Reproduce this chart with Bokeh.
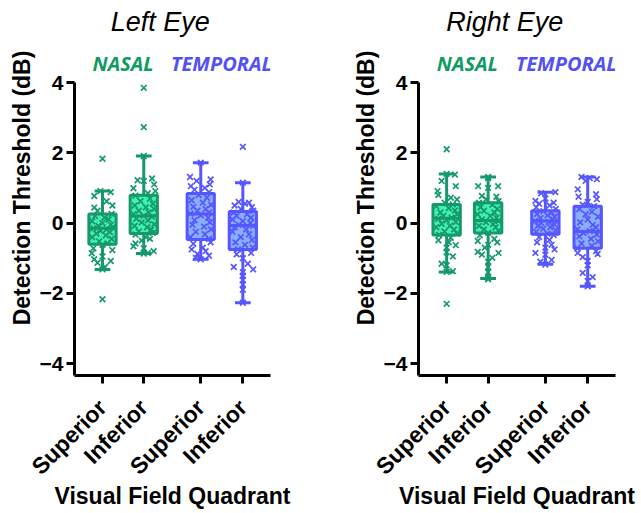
import math
from bokeh.plotting import figure
from bokeh.layouts import row
from bokeh.models import FixedTicker, Label, Range1d
from bokeh.embed import file_html
from bokeh.resources import INLINE

# ---------------- data ----------------
tick_labels = ["Superior", "Inferior", "Superior", "Inferior"]
y_ticks = [-4, -2, 0, 2, 4]
panel_titles = ["Left Eye", "Right Eye"]
region_names = ["NASAL", "TEMPORAL"]
x_title = "Visual Field Quadrant"
y_title = "Detection Threshold (dB)"

# Left eye individual thresholds (dB)
left_nasal_sup = [1.83, 0.91, 0.88, 0.77, 0.50, 0.44, 0.62, 0.35, 0.26, 0.20,
                  0.15, 0.10, 0.05, 0.00, -0.05, -0.08, -0.12, -0.15, -0.18, -0.22,
                  -0.26, -0.30, -0.35, -0.40, -0.45, -0.52, -0.58, -0.62, -0.72, -0.77,
                  -0.86, -0.95, -1.03, -1.08, -1.13, -1.25, -1.32, -2.17]
left_nasal_inf = [3.85, 2.73, 1.91, 1.27, 1.22, 1.20, 1.10, 0.99, 0.91, 0.85,
                  0.78, 0.70, 0.62, 0.55, 0.50, 0.45, 0.40, 0.35, 0.30, 0.25,
                  0.21, 0.18, 0.12, 0.08, 0.02, -0.03, -0.08, -0.12, -0.18, -0.24,
                  -0.28, -0.33, -0.40, -0.45, -0.50, -0.58, -0.66, -0.72, -0.80, -0.85, -0.87]
left_temp_sup = [1.72, 1.31, 1.24, 1.20, 1.10, 1.05, 1.00, 0.95, 0.88, 0.80,
                 0.72, 0.65, 0.58, 0.52, 0.46, 0.40, 0.35, 0.30, 0.27, 0.22,
                 0.15, 0.08, 0.02, -0.05, -0.10, -0.18, -0.25, -0.32, -0.40, -0.45,
                 -0.55, -0.59, -0.70, -0.75, -0.80, -0.88, -0.93, -0.99, -1.03]
left_temp_inf = [2.17, 1.15, 0.60, 0.58, 0.55, 0.50, 0.45, 0.40, 0.35, 0.30,
                 0.25, 0.20, 0.15, 0.10, 0.05, 0.00, -0.05, -0.08, -0.12, -0.18,
                 -0.25, -0.32, -0.40, -0.48, -0.55, -0.62, -0.70, -0.75, -0.85, -0.89,
                 -1.00, -1.16, -1.25, -1.32, -1.40, -1.50, -1.62, -1.75, -1.90, -2.27]

# Right eye individual thresholds (dB)
right_nasal_sup = [2.10, 1.40, 1.38, 1.20, 1.05, 0.91, 0.80, 0.72, 0.67, 0.58,
                   0.53, 0.48, 0.42, 0.36, 0.30, 0.25, 0.20, 0.15, 0.12, 0.08,
                   0.03, -0.02, -0.08, -0.12, -0.18, -0.24, -0.30, -0.34, -0.42, -0.49,
                   -0.55, -0.63, -0.70, -0.83, -0.95, -1.16, -1.20, -1.37, -1.39, -2.30]
right_nasal_inf = [1.31, 1.28, 1.05, 1.05, 1.00, 0.77, 0.75, 0.68, 0.62, 0.58,
                   0.52, 0.45, 0.40, 0.35, 0.30, 0.25, 0.20, 0.15, 0.10, 0.06,
                   0.02, -0.03, -0.08, -0.12, -0.18, -0.22, -0.28, -0.35, -0.45, -0.51,
                   -0.55, -0.62, -0.70, -0.82, -0.85, -0.90, -0.99, -1.10, -1.25, -1.40, -1.56, -1.60]
right_temp_sup = [0.88, 0.85, 0.70, 0.63, 0.58, 0.55, 0.50, 0.45, 0.40, 0.34,
                  0.30, 0.26, 0.22, 0.18, 0.14, 0.10, 0.06, 0.03, 0.00, -0.04,
                  -0.08, -0.12, -0.16, -0.20, -0.25, -0.30, -0.34, -0.40, -0.48, -0.55,
                  -0.62, -0.70, -0.75, -0.85, -0.90, -1.05, -1.10, -1.18]
right_temp_inf = [1.31, 1.28, 1.25, 1.20, 0.96, 0.82, 0.75, 0.68, 0.60, 0.52,
                  0.48, 0.40, 0.32, 0.25, 0.18, 0.10, 0.02, -0.05, -0.12, -0.18,
                  -0.23, -0.28, -0.33, -0.38, -0.45, -0.52, -0.58, -0.65, -0.72, -0.80,
                  -0.85, -0.88, -0.97, -1.08, -1.20, -1.42, -1.54, -1.65, -1.80]

# Box statistics
left_whisker_lo = [-1.32, -0.87, -1.03, -2.27]
left_q1 = [-0.60, -0.30, -0.47, -0.75]
left_median = [-0.15, 0.20, 0.26, -0.07]
left_q3 = [0.26, 0.79, 0.84, 0.33]
left_whisker_hi = [0.91, 1.91, 1.72, 1.15]

right_whisker_lo = [-1.39, -1.58, -1.17, -1.80]
right_q1 = [-0.34, -0.28, -0.32, -0.72]
right_median = [0.14, 0.07, 0.06, -0.24]
right_q3 = [0.53, 0.58, 0.35, 0.48]
right_whisker_hi = [1.40, 1.31, 0.88, 1.31]

# ---------------- layout / style (not data) ----------------
positions = [1.0, 2.0, 3.38, 4.40]
jitters = {
    "ns_l": [0, -0.05, 0.2, -0.2, 0.24, -0.2, 0.1, -0.12, 0.22, -0.18, 0.05, 0.15, -0.25, 0.0, 0.2, -0.1, 0.25, -0.22, 0.1, -0.05,
             0.18, -0.15, 0.08, -0.25, 0.22, -0.08, 0.12, 0.0, -0.22, 0.24, -0.26, 0.0, -0.2, 0.2, -0.12, 0.06, 0.0, 0.0],
    "ni_l": [0, 0, 0, 0.2, -0.15, 0.0, 0.25, -0.25, 0.28, 0.1, -0.2, 0.15, -0.08, 0.22, -0.22, 0.05, 0.25, -0.12, 0.12, -0.25,
             0.0, 0.2, -0.18, 0.1, -0.05, 0.25, -0.22, 0.08, 0.18, -0.12, 0.22, -0.2, 0.05, 0.15, -0.05, -0.2, -0.25, 0.0, 0.24, 0.1, 0.0],
    "ts_l": [0, -0.26, 0.24, -0.1, 0.22, -0.24, 0.1, -0.15, 0.2, -0.05, 0.15, -0.22, 0.05, 0.25, -0.18, 0.12, -0.08, 0.2, -0.25, 0.0,
             0.18, -0.15, 0.22, -0.2, 0.08, 0.25, -0.12, 0.1, -0.25, 0.2, 0.24, -0.18, 0.05, -0.22, 0.12, -0.08, 0.2, -0.12, 0.0],
    "ti_l": [0, 0, -0.1, 0.15, 0.05, -0.2, 0.22, -0.05, 0.25, -0.22, 0.1, -0.15, 0.2, -0.25, 0.0, 0.18, -0.1, 0.25, -0.2, 0.08,
             -0.25, 0.15, -0.05, 0.22, -0.18, 0.05, 0.24, -0.12, 0.2, -0.15, 0.0, 0.12, -0.22, 0.25, 0.0, 0.0, 0.0, 0.0, 0.0, 0.0],
    "ns_r": [0, 0.0, 0.2, -0.12, 0.22, -0.22, -0.2, 0.1, 0.25, -0.05, 0.15, -0.25, 0.05, 0.2, -0.15, 0.25, -0.08, 0.12, -0.2, 0.0,
             0.22, -0.12, 0.08, -0.25, 0.18, -0.05, 0.25, -0.18, 0.1, -0.2, 0.05, 0.22, 0.0, 0.0, 0.15, -0.12, 0.0, 0.15, 0.0, 0.0],
    "ni_r": [0, 0.0, -0.24, 0.24, 0.0, -0.15, 0.2, -0.05, 0.25, -0.22, 0.1, -0.18, 0.22, -0.1, 0.15, -0.25, 0.05, 0.2, -0.15, 0.25,
             -0.05, 0.12, -0.22, 0.18, -0.1, 0.25, 0.0, -0.2, 0.15, -0.25, 0.22, 0.0, -0.08, -0.25, 0.25, -0.15, 0.1, 0.0, 0.0, 0.0, 0.0, 0.0],
    "ts_r": [0.24, -0.1, 0.0, -0.24, 0.2, -0.15, 0.1, -0.22, 0.25, -0.05, 0.15, -0.2, 0.05, 0.22, -0.12, 0.18, -0.25, 0.08, -0.1, 0.22,
             -0.18, 0.12, -0.05, 0.25, -0.22, 0.05, 0.2, -0.15, 0.1, -0.2, 0.15, 0.0, 0.22, -0.24, 0.0, 0.15, -0.12, 0.0],
    "ti_r": [-0.15, 0.05, 0.22, -0.05, -0.24, 0.2, -0.22, 0.22, 0.0, -0.12, 0.15, -0.2, 0.1, -0.05, 0.25, 0.0, -0.18, 0.12, 0.2, -0.25,
             0.05, -0.1, 0.22, -0.2, 0.08, 0.25, -0.15, 0.1, -0.25, 0.2, -0.24, 0.24, -0.12, 0.0, 0.0, -0.12, 0.12, 0.0, 0.0],
}

GREEN_LINE = "#16996a"
GREEN_FILL = "#3ff0ae"
BLUE_LINE = "#5656ff"
BLUE_FILL = "#88aeff"
NASAL_TXT = "#129a64"
TEMP_TXT = "#5252f2"
FONT = "Liberation Sans"

X_START, X_END = 0.322, 5.07
Y_START, Y_TOP_TICK, Y_END = -4.34, 4.0, 6.336
FIG_H = 512


def make_panel(title, groups, jit_keys, lo, q1, med, q3, hi, width, border_right):
    p = figure(width=width, height=FIG_H, output_backend="svg", toolbar_location=None,
               x_range=Range1d(X_START, X_END), y_range=Range1d(Y_START, Y_END),
               min_border_left=74, min_border_right=border_right,
               min_border_top=0, min_border_bottom=137)
    p.outline_line_color = None
    p.grid.visible = False
    p.background_fill_color = "white"
    p.border_fill_color = "white"

    line_cols = [GREEN_LINE, GREEN_LINE, BLUE_LINE, BLUE_LINE]
    fill_cols = [GREEN_FILL, GREEN_FILL, BLUE_FILL, BLUE_FILL]
    bw = 0.33
    cw = 0.19

    p.quad(left=[x - bw for x in positions], right=[x + bw for x in positions],
           bottom=q1, top=q3, fill_color=fill_cols, line_color=None)

    for pos, vals, key, col in zip(positions, groups, jit_keys, line_cols):
        js = jitters[key]
        xs = [pos + j for v, j in zip(vals, js)]
        ys = [v for v, j in zip(vals, js)]
        p.scatter(xs, ys, marker="x", size=8, line_color=col, line_width=1.7)

    p.segment(x0=positions, y0=q3, x1=positions, y1=hi, line_color=line_cols, line_width=3)
    p.segment(x0=positions, y0=lo, x1=positions, y1=q1, line_color=line_cols, line_width=3)
    p.segment(x0=[x - cw for x in positions], y0=hi, x1=[x + cw for x in positions], y1=hi,
              line_color=line_cols, line_width=3)
    p.segment(x0=[x - cw for x in positions], y0=lo, x1=[x + cw for x in positions], y1=lo,
              line_color=line_cols, line_width=3)
    p.quad(left=[x - bw for x in positions], right=[x + bw for x in positions],
           bottom=q1, top=q3, fill_color=None, line_color=line_cols, line_width=3)
    p.segment(x0=[x - bw for x in positions], y0=med, x1=[x + bw for x in positions], y1=med,
              line_color=line_cols, line_width=3)

    p.xaxis.ticker = FixedTicker(ticks=positions)
    p.xaxis.major_label_overrides = {pos: lab for pos, lab in zip(positions, tick_labels)}
    p.xaxis.major_label_orientation = math.pi / 4
    p.yaxis.ticker = FixedTicker(ticks=y_ticks)
    p.yaxis.bounds = (Y_START, Y_TOP_TICK)
    for ax in (p.xaxis, p.yaxis):
        ax.axis_line_width = 3
        ax.axis_line_color = "black"
        ax.major_tick_line_width = 3
        ax.major_tick_line_color = "black"
        ax.major_tick_out = 8
        ax.major_tick_in = 0
        ax.minor_tick_line_color = None
        ax.major_label_text_font = FONT
        ax.major_label_text_font_style = "bold"
        ax.major_label_text_color = "black"
        ax.axis_label_text_font = FONT
        ax.axis_label_text_font_style = "bold"
        ax.axis_label_text_font_size = "23px"
        ax.axis_label_text_color = "black"
    p.yaxis.major_label_text_font_size = "21px"
    p.xaxis.major_label_text_font_size = "23px"
    p.yaxis.major_label_standoff = 3
    p.xaxis.major_label_standoff = 20
    p.xaxis.axis_label = x_title
    p.yaxis.axis_label = y_title
    p.xaxis.axis_label_standoff = -9
    p.yaxis.axis_label_standoff = 2

    p.add_layout(Label(x=2.40, y=5.71, text=title, text_align="center", text_baseline="middle",
                       text_font=FONT, text_font_style="italic", text_font_size="27px",
                       text_color="black"))
    p.add_layout(Label(x=1.50, y=4.54, text=region_names[0], text_align="center",
                       text_baseline="middle", text_font="Open Sans", text_font_style="bold italic",
                       text_font_size="20px", text_color=NASAL_TXT))
    p.add_layout(Label(x=3.88, y=4.54, text=region_names[1], text_align="center",
                       text_baseline="middle", text_font="Open Sans", text_font_style="bold italic",
                       text_font_size="20px", text_color=TEMP_TXT))
    return p


left = make_panel(panel_titles[0],
                  [left_nasal_sup, left_nasal_inf, left_temp_sup, left_temp_inf],
                  ["ns_l", "ni_l", "ts_l", "ti_l"],
                  left_whisker_lo, left_q1, left_median, left_q3, left_whisker_hi,
                  width=344, border_right=74)
right = make_panel(panel_titles[1],
                   [right_nasal_sup, right_nasal_inf, right_temp_sup, right_temp_inf],
                   ["ns_r", "ni_r", "ts_r", "ti_r"],
                   right_whisker_lo, right_q1, right_median, right_q3, right_whisker_hi,
                   width=296, border_right=25)

layout = row(left, right, spacing=0)
open("out.html", "w").write(file_html(layout, INLINE))
